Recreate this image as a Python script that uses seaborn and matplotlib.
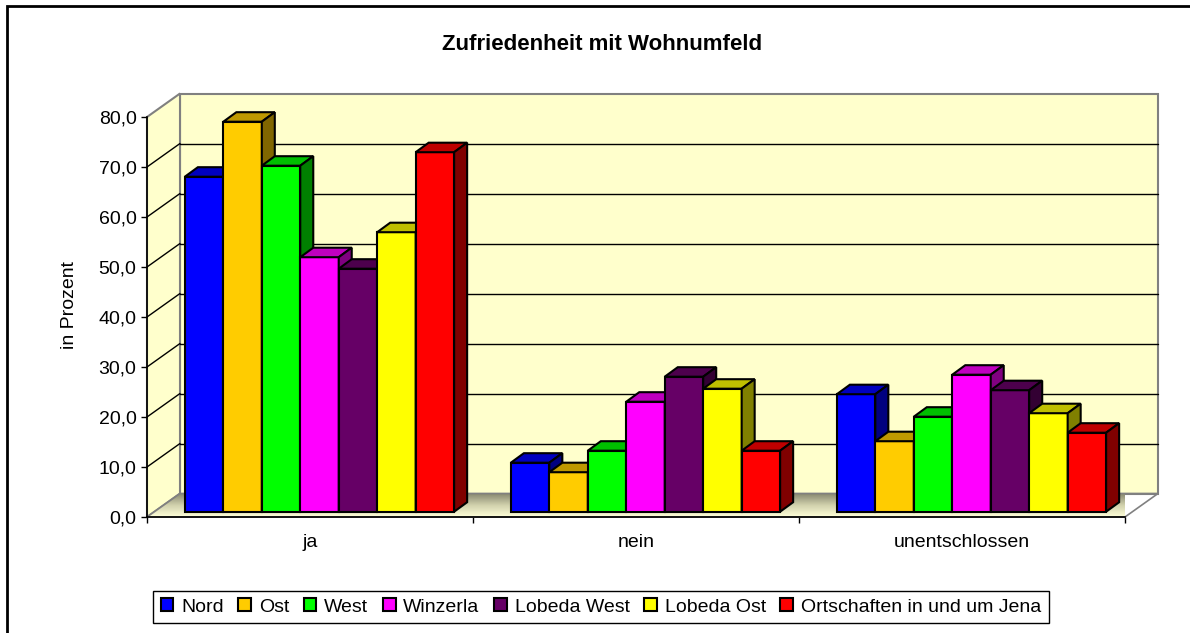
import numpy as np
import pandas as pd
import seaborn as sns
import matplotlib.pyplot as plt
import matplotlib.transforms as mtransforms
from matplotlib.patches import Polygon, Rectangle
from matplotlib.colors import to_rgb, LinearSegmentedColormap

# data
antworten = ['ja', 'nein', 'unentschlossen']
ortsteile = ['Nord', 'Ost', 'West', 'Winzerla', 'Lobeda West', 'Lobeda Ost',
             'Ortschaften in und um Jena']
nord = [67.0, 9.8, 23.5]
ost = [78.0, 7.9, 14.1]
west = [69.2, 12.2, 19.0]
winzerla = [50.9, 22.0, 27.4]
lobeda_west = [48.6, 27.0, 24.3]
lobeda_ost = [55.9, 24.6, 19.7]
ortschaften = [71.9, 12.2, 15.8]
farben = ['#0000FF', '#FFCC00', '#00FF00', '#FF00FF', '#660066', '#FFFF00', '#FF0000']
y_ticks = [0, 10, 20, 30, 40, 50, 60, 70, 80]

werte = [nord, ost, west, winzerla, lobeda_west, lobeda_ost, ortschaften]
rows = []
for ort, vals in zip(ortsteile, werte):
    for antwort, v in zip(antworten, vals):
        rows.append((antwort, ort, v))
df = pd.DataFrame(rows, columns=['Antwort', 'Ortsteil', 'Prozent'])

sns.set_style('white')
plt.rcParams['font.family'] = ['Liberation Sans', 'DejaVu Sans']
plt.rcParams['text.color'] = 'black'
plt.rcParams['xtick.color'] = 'black'
plt.rcParams['ytick.color'] = 'black'
plt.rcParams['axes.labelcolor'] = 'black'

W, H = 1190, 633
def fx(px):
    return px / W
def fy(py):
    return 1 - py / H

fig = plt.figure(figsize=(W / 100, H / 100), dpi=100)
ax = fig.add_axes([fx(147), fy(517), (1125 - 147) / W, 400 / H])
ax.set_facecolor('none')

sns.barplot(data=df, x='Antwort', y='Prozent', hue='Ortsteil', hue_order=ortsteile,
            order=antworten, palette=farben, saturation=1, width=0.826, gap=0,
            edgecolor='black', linewidth=1.5, legend=False, ax=ax)

ax.set_xlim(-0.5, 2.5)
ax.set_ylim(0, 80)
ax.set_xlabel('')
ax.set_ylabel('')
ax.set_yticks(y_ticks)
ax.set_yticklabels([f'{v:.1f}'.replace('.', ',') for v in y_ticks])
ax.set_xticks([-0.5, 0.5, 1.5, 2.5], minor=True)
ax.tick_params(axis='x', which='major', bottom=True, length=0, pad=12, labelsize=14)
ax.tick_params(axis='x', which='minor', bottom=True, length=4.5, width=1, color='black')
ax.tick_params(axis='y', left=True, length=4.5, width=1, color='black', pad=3, labelsize=14)
for s in ['top', 'right']:
    ax.spines[s].set_visible(False)
for s in ['left', 'bottom']:
    ax.spines[s].set_color('black')
    ax.spines[s].set_linewidth(1.2)

# pseudo 3D offsets in pixels
wall = np.array([33, 23.5])
bar_off = np.array([9.5, 5.3])
depth = np.array([13, 9.5])
grau = '#808080'
ident = mtransforms.IdentityTransform()
T = ax.transData.transform

def shift(d):
    return ax.transData + mtransforms.Affine2D().translate(d[0], d[1])

# back wall + gridlines
ax.add_patch(Rectangle((-0.5, 0), 3, 80, transform=shift(wall), fc='#FFFFCC',
                       ec=grau, lw=1.5, zorder=0.5, clip_on=False))
for v in y_ticks[1:-1]:
    ax.plot([-0.5, 2.5], [v, v], transform=shift(wall), color='black', lw=1,
            zorder=0.6, clip_on=False)

# side wall
f0, f80 = T((-0.5, 0)), T((-0.5, 80))
ax.add_patch(Polygon([f0, f80, f80 + wall, f0 + wall], closed=True, transform=ident,
                     fc='#FFFFCC', ec=grau, lw=1.5, zorder=0.5, clip_on=False))
for v in y_ticks[1:-1]:
    p = T((-0.5, v))
    ax.plot([p[0], p[0] + wall[0]], [p[1], p[1] + wall[1]], transform=ident,
            color='black', lw=1, zorder=0.6, clip_on=False)

# floor with gradient
r0 = T((2.5, 0))
floor = Polygon([f0, r0, r0 + wall, f0 + wall], closed=True, transform=ident,
                fc='none', ec=grau, lw=1.2, zorder=0.8, clip_on=False)
ax.add_patch(floor)
inv = ax.transData.inverted()
lo = inv.transform(f0)
hi = inv.transform(r0 + wall)
cmap = LinearSegmentedColormap.from_list('floor', ['#FFFFD8', '#D0D0AC', '#86866E'])
grad = np.linspace(0, 1, 64).reshape(-1, 1)
im = ax.imshow(grad, cmap=cmap, extent=(lo[0], hi[0], lo[1], hi[1]), origin='lower',
               aspect='auto', zorder=0.7, interpolation='bilinear')
im.set_clip_path(floor)
ax.set_xlim(-0.5, 2.5)
ax.set_ylim(0, 80)

# bars: front faces from seaborn, tops and sides from their geometry
for i, cont in enumerate(ax.containers):
    z = 3 + i * 0.1
    for bar in cont:
        bar.set_transform(shift(bar_off))
        bar.set_zorder(z)
        bar.set_clip_on(False)
        x0, w, h = bar.get_x(), bar.get_width(), bar.get_height()
        br = T((x0 + w, 0)) + bar_off
        tr = T((x0 + w, h)) + bar_off
        tl = T((x0, h)) + bar_off
        c = np.array(to_rgb(bar.get_facecolor()))
        ax.add_patch(Polygon([tl, tr, tr + depth, tl + depth], closed=True, transform=ident,
                             fc=c * 0.75, ec='black', lw=1.5, zorder=z + 0.05, clip_on=False))
        ax.add_patch(Polygon([br, br + depth, tr + depth, tr], closed=True, transform=ident,
                             fc=c * 0.5, ec='black', lw=1.5, zorder=z + 0.05, clip_on=False))

handles = [cont[0] for cont in ax.containers]
leg = fig.legend(handles, ortsteile, loc='center', bbox_to_anchor=(fx(601), fy(607)),
                 ncol=7, frameon=True, fancybox=False, edgecolor='black', framealpha=1,
                 fontsize=14, handlelength=0.65, handleheight=0.65, handletextpad=0.4,
                 columnspacing=0.75, borderpad=0.4, borderaxespad=0)
leg.get_frame().set_linewidth(1)

fig.text(fx(602), fy(44), 'Zufriedenheit mit Wohnumfeld', ha='center', va='center',
         fontsize=16, fontweight='bold')
fig.text(fx(70), fy(305), 'in Prozent', rotation=90, ha='center', va='center', fontsize=14)

# outer chart border (cropped at right and bottom)
fig.add_artist(Rectangle((fx(7), -0.5), 2, fy(6) + 0.5, transform=fig.transFigure,
                         fill=False, ec='black', lw=2))

fig.savefig('out.png', dpi=100)
